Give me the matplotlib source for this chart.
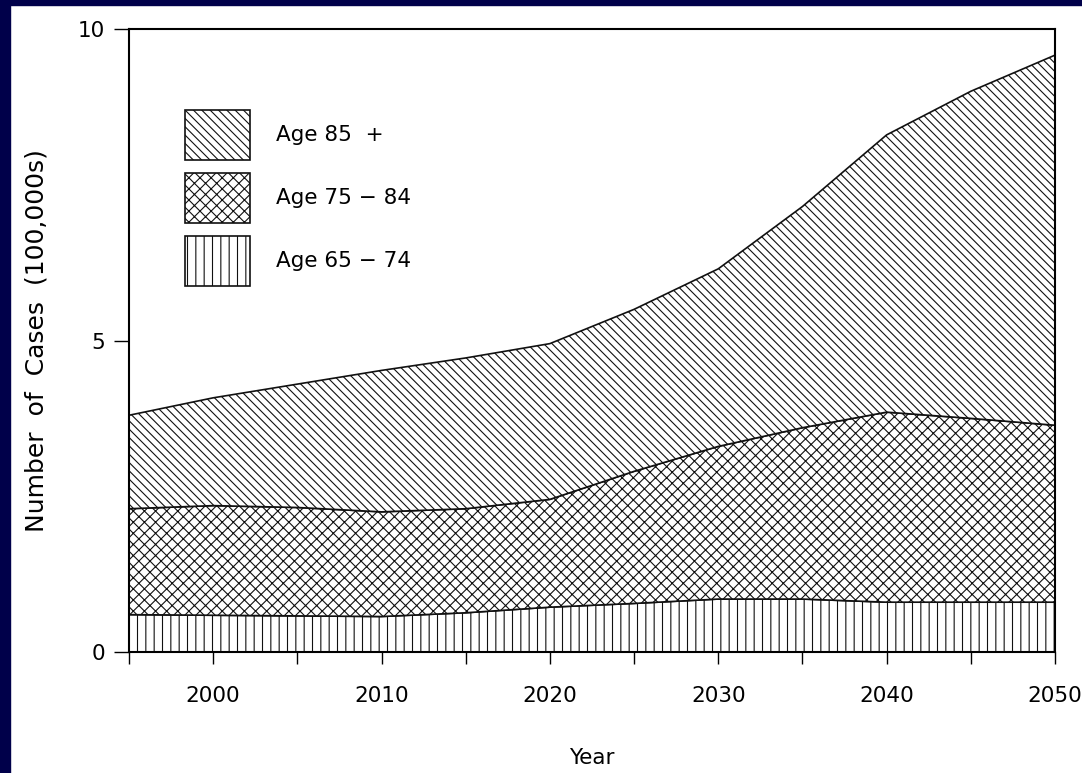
import matplotlib
matplotlib.use("Agg")
import matplotlib.pyplot as plt
from matplotlib.patches import Rectangle

# values (100,000s of cases per age group)
years = [1995, 2000, 2005, 2010, 2015, 2020, 2025, 2030, 2035, 2040, 2045, 2050]
age_65_74 = [0.60, 0.59, 0.58, 0.57, 0.63, 0.72, 0.78, 0.85, 0.85, 0.80, 0.80, 0.80]
age_75_84 = [1.70, 1.76, 1.74, 1.68, 1.67, 1.73, 2.12, 2.45, 2.75, 3.05, 2.95, 2.84]
age_85_up = [1.50, 1.73, 1.98, 2.27, 2.42, 2.50, 2.60, 2.85, 3.55, 4.45, 5.25, 5.94]
group_labels = ["Age 65 − 74", "Age 75 − 84", "Age 85  +"]
hatches = ["||", "xxx", "\\\\\\\\"]

x_major = [2000, 2010, 2020, 2030, 2040, 2050]
x_minor = [1995, 2005, 2015, 2025, 2035, 2045]
y_ticks = [0, 5, 10]

plt.rcParams["font.family"] = ["DejaVu Sans"]
plt.rcParams["hatch.linewidth"] = 0.8

fig = plt.figure(figsize=(10.82, 7.73), dpi=100, facecolor="white")

# slide background strips
fig.add_artist(Rectangle((0, 0), 10 / 1082, 1, transform=fig.transFigure,
                         color="#00004a", zorder=-5))
fig.add_artist(Rectangle((0, 768 / 773), 1, 5 / 773, transform=fig.transFigure,
                         color="#00004a", zorder=-5))

ax = fig.add_axes([0.1192, 0.1565, 0.8558, 0.8060])

polys = ax.stackplot(years, age_65_74, age_75_84, age_85_up,
                     labels=group_labels, colors=["white"] * 3,
                     edgecolor="#111111", linewidth=1.2)
for p, h in zip(polys, hatches):
    p.set_hatch(h)

ax.set_xlim(1995, 2050)
ax.set_ylim(0, 10)

ax.set_xticks(x_major)
ax.set_xticks(x_minor, minor=True)
ax.set_yticks(y_ticks)
ax.tick_params(axis="x", which="both", length=8.5, width=1, pad=16, labelsize=15.5)
ax.tick_params(axis="y", length=11, width=1, pad=6, labelsize=15.5)

for s in ax.spines.values():
    s.set_linewidth(1.5)
    s.set_zorder(5)

ax.set_xlabel("Year", fontsize=15.5)
ax.xaxis.set_label_coords(0.5, -0.170)
ax.xaxis.label.set_va("center")
ax.set_ylabel("Number  of  Cases  (100,000s)", fontsize=18)
ax.yaxis.set_label_coords(-0.1004, 0.5)
ax.yaxis.label.set_va("center")

handles, labels = ax.get_legend_handles_labels()
ax.legend(handles[::-1], labels[::-1], loc="upper left",
          bbox_to_anchor=(0.0605, 0.870), frameon=False, borderpad=0,
          borderaxespad=0, fontsize=15.5, handlelength=3.0, handleheight=3.2,
          labelspacing=0.6, handletextpad=1.25)

fig.savefig("out.png", dpi=100)
